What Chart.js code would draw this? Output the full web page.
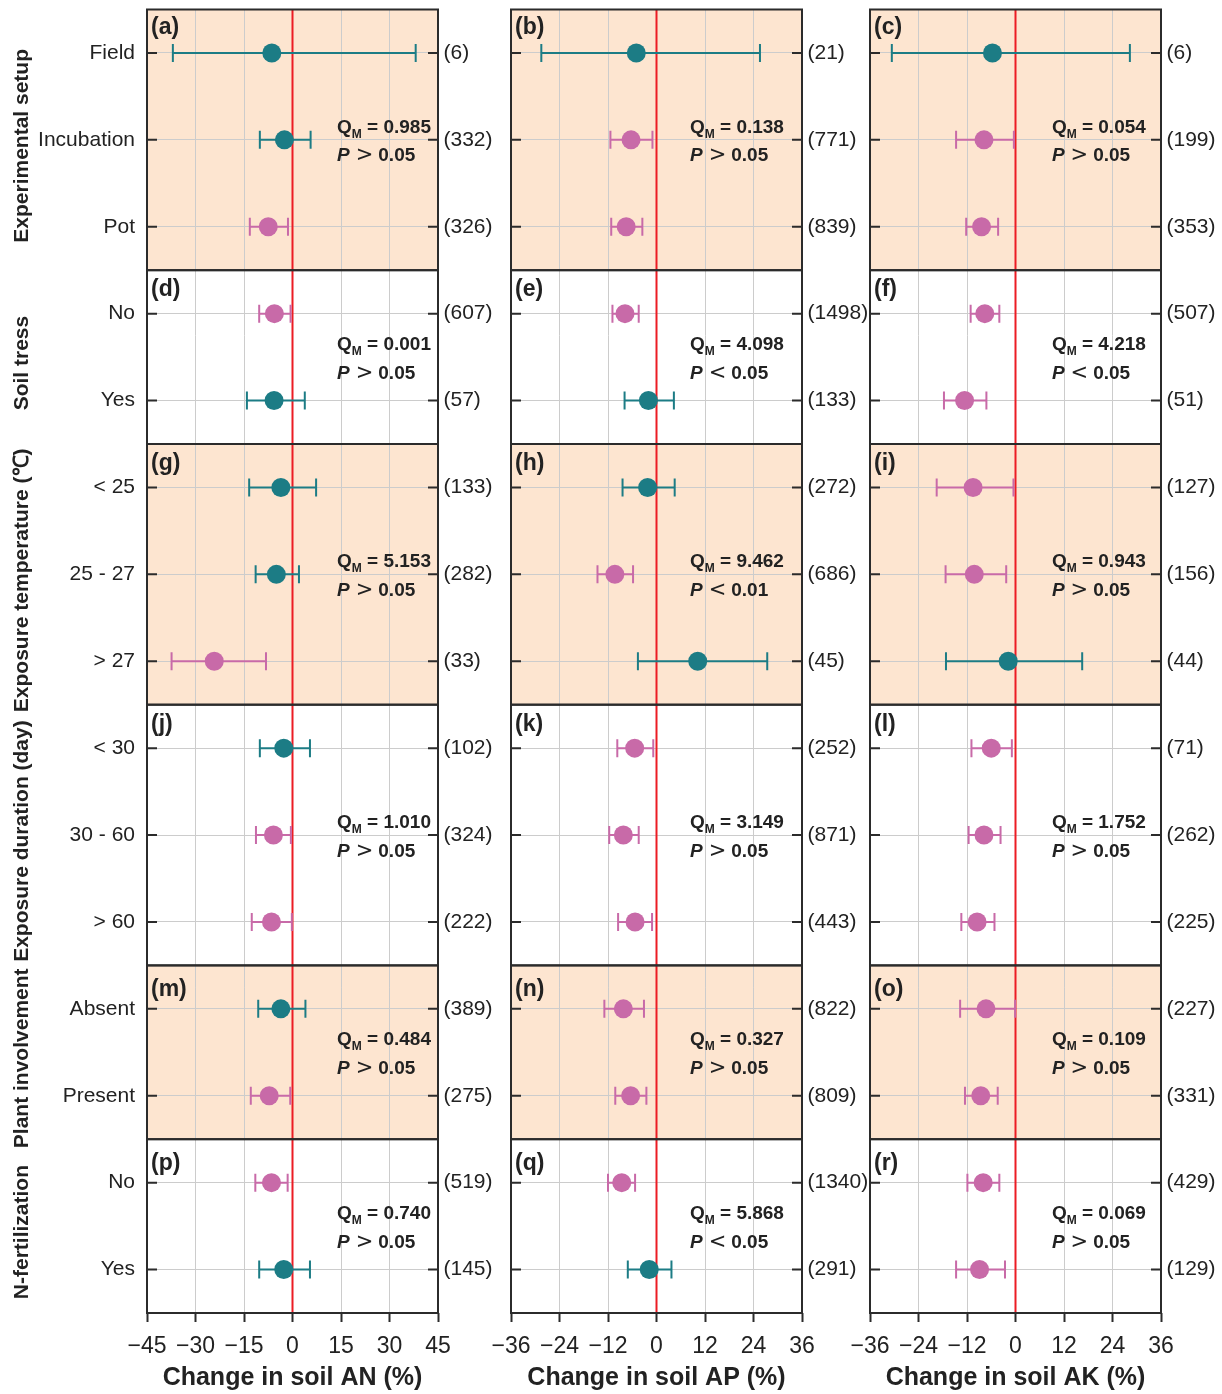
<!DOCTYPE html>
<html>
<head>
<meta charset="utf-8">
<script src="https://cdn.jsdelivr.net/npm/chart.js@4"></script>
<style>
  body { margin: 0; background: #fff; width: 1222px; height: 1394px; position: relative; overflow: hidden; }
  canvas { position: absolute; top: 0; }
</style>
</head>
<body>
<canvas id="chart-an" width="500" height="1394" style="left:0"></canvas>
<canvas id="chart-ap" width="440" height="1394" style="left:440px"></canvas>
<canvas id="chart-ak" width="422" height="1394" style="left:800px"></canvas>
<script>
// rows, top to bottom
const categories = ['Field', 'Incubation', 'Pot', 'No', 'Yes', '< 25', '25 - 27', '> 27',
  '< 30', '30 - 60', '> 60', 'Absent', 'Present', 'No', 'Yes'];
const groupNames = ['Experimental setup', 'Soil tress', 'Exposure temperature (℃)',
  'Exposure duration (day)', 'Plant involvement', 'N-fertilization'];
const groupSizes = [3, 2, 3, 3, 2, 2];

// soil AN
const meanAN = [-6.4, -2.5, -7.5, -5.6, -5.7, -3.6, -5.0, -24.2, -2.7, -5.9, -6.5, -3.6, -7.2, -6.5, -2.7];
const lowAN  = [-37.0, -10.1, -13.2, -10.3, -14.1, -13.4, -11.4, -37.4, -10.1, -11.3, -12.6, -10.6, -12.9, -11.5, -10.3];
const highAN = [38.1, 5.6, -1.4, -0.6, 3.8, 7.3, 2.0, -8.2, 5.4, -0.5, -0.2, 4.0, -0.7, -1.5, 5.4];
const nAN    = [6, 332, 326, 607, 57, 133, 282, 33, 102, 324, 222, 389, 275, 519, 145];
const qmAN   = ['0.985', '0.001', '5.153', '1.010', '0.484', '0.740'];
const pAN    = ['> 0.05', '> 0.05', '> 0.05', '> 0.05', '> 0.05', '> 0.05'];

// soil AP
const meanAP = [-5.0, -6.3, -7.5, -7.8, -2.0, -2.2, -10.3, 10.2, -5.4, -8.2, -5.3, -8.2, -6.4, -8.6, -1.8];
const lowAP  = [-28.5, -11.4, -11.2, -10.9, -7.9, -8.4, -14.6, -4.6, -9.7, -11.7, -9.5, -12.9, -10.2, -12.0, -7.1];
const highAP = [25.6, -1.0, -3.5, -4.4, 4.3, 4.5, -5.8, 27.4, -0.8, -4.4, -1.1, -3.1, -2.5, -5.3, 3.7];
const nAP    = [21, 771, 839, 1498, 133, 272, 686, 45, 252, 871, 443, 822, 809, 1340, 291];
const qmAP   = ['0.138', '4.098', '9.462', '3.149', '0.327', '5.868'];
const pAP    = ['> 0.05', '< 0.05', '< 0.01', '> 0.05', '> 0.05', '< 0.05'];

// soil AK
const meanAK = [-5.7, -7.8, -8.4, -7.6, -12.6, -10.5, -10.2, -1.8, -6.0, -7.8, -9.5, -7.3, -8.6, -8.0, -8.9];
const lowAK  = [-30.6, -14.7, -12.2, -11.1, -17.7, -19.5, -17.3, -17.2, -10.9, -11.6, -13.4, -13.7, -12.5, -11.9, -14.7];
const highAK = [28.3, -0.4, -4.3, -4.0, -7.2, -0.5, -2.3, 16.5, -0.9, -3.7, -5.2, -0.1, -4.4, -4.0, -2.6];
const nAK    = [6, 199, 353, 507, 51, 127, 156, 44, 71, 262, 225, 227, 331, 429, 129];
const qmAK   = ['0.054', '4.218', '0.943', '1.752', '0.109', '0.069'];
const pAK    = ['> 0.05', '< 0.05', '> 0.05', '> 0.05', '> 0.05', '> 0.05'];

const TEAL = '#1c7c85';
const PINK = '#c86aa8';
const SHADE = '#fde5d0';
const RED = '#ec1c24';
const INK = '#222222';
const FONT = '"Liberation Sans", Arial, Helvetica, sans-serif';

Chart.defaults.font.family = FONT;

const labelDy = [18, 19, 19.5, 19.5, 24.5, 24.5];

function pointColor(high) {
  return high < 0 ? PINK : TEAL;
}

// draws shading, zero line, error bars, frames and text for one column
function forestPlugin(col) {
  return {
    id: 'forest',
    beforeDraw(chart) {
      const { ctx, chartArea: a, scales: { y } } = chart;
      ctx.save();
      let k = 0;
      groupSizes.forEach((n, g) => {
        const top = y.getPixelForValue(k - 0.5);
        const bot = y.getPixelForValue(k + n - 0.5);
        if (g % 2 === 0) {
          ctx.fillStyle = SHADE;
          ctx.fillRect(a.left, top, a.right - a.left, bot - top);
        }
        k += n;
      });
      ctx.restore();
    },
    beforeDatasetsDraw(chart) {
      const { ctx, chartArea: a, scales: { x, y } } = chart;
      ctx.save();
      const x0 = x.getPixelForValue(0);
      ctx.strokeStyle = RED;
      ctx.lineWidth = 2;
      ctx.beginPath();
      ctx.moveTo(x0, a.top);
      ctx.lineTo(x0, a.bottom);
      ctx.stroke();

      ctx.lineWidth = 2;
      col.low.forEach((lo, i) => {
        const yy = y.getPixelForValue(i);
        const xl = x.getPixelForValue(lo);
        const xh = x.getPixelForValue(col.high[i]);
        ctx.strokeStyle = pointColor(col.high[i]);
        ctx.beginPath();
        ctx.moveTo(xl, yy); ctx.lineTo(xh, yy);
        ctx.moveTo(xl, yy - 9); ctx.lineTo(xl, yy + 9);
        ctx.moveTo(xh, yy - 9); ctx.lineTo(xh, yy + 9);
        ctx.stroke();
      });
      ctx.restore();
    },
    afterDraw(chart) {
      const { ctx, chartArea: a, scales: { y } } = chart;
      const w = a.right - a.left;
      ctx.save();

      // inward ticks on both sides
      ctx.strokeStyle = '#2b2b2b';
      ctx.lineWidth = 2;
      categories.forEach((c, i) => {
        const yy = y.getPixelForValue(i);
        ctx.beginPath();
        ctx.moveTo(a.left, yy); ctx.lineTo(a.left + 10, yy);
        ctx.moveTo(a.right - 10, yy); ctx.lineTo(a.right, yy);
        ctx.stroke();
      });

      let k = 0;
      groupSizes.forEach((n, g) => {
        const top = y.getPixelForValue(k - 0.5);
        const bot = y.getPixelForValue(k + n - 0.5);
        const mid = (top + bot) / 2;

        ctx.strokeStyle = '#2b2b2b';
        ctx.lineWidth = 2;
        ctx.strokeRect(a.left, top, w, bot - top);

        ctx.fillStyle = INK;
        ctx.textAlign = 'left';
        ctx.textBaseline = 'middle';
        ctx.font = 'bold 23px ' + FONT;
        ctx.fillText('(' + col.panels[g] + ')', a.left + 4, top + labelDy[g]);

        // Q_M line
        ctx.textBaseline = 'alphabetic';
        let tx = a.left + col.qFrac * w;
        let by = mid - 7;
        ctx.font = 'bold 19px ' + FONT;
        ctx.fillText('Q', tx, by);
        tx += ctx.measureText('Q').width;
        ctx.font = 'bold 12px ' + FONT;
        ctx.fillText('M', tx, by + 5);
        tx += ctx.measureText('M').width;
        ctx.font = 'bold 19px ' + FONT;
        ctx.fillText(' = ' + col.qm[g], tx, by);

        // P line
        tx = a.left + col.qFrac * w;
        by = mid + 21.5;
        const [sign, pval] = col.p[g].split(' ');
        ctx.font = 'italic bold 19px ' + FONT;
        ctx.fillText('P', tx, by);
        tx += ctx.measureText('P').width + 6;
        ctx.font = '21px "DejaVu Sans", sans-serif';
        ctx.fillText(sign, tx, by);
        tx += ctx.measureText(sign).width + 5;
        ctx.font = 'bold 19px ' + FONT;
        ctx.fillText(pval, tx, by);

        if (col.showGroups) {
          ctx.save();
          ctx.translate(22, mid + 6);
          ctx.rotate(-Math.PI / 2);
          ctx.textAlign = 'center';
          ctx.textBaseline = 'middle';
          ctx.font = 'bold 21px ' + FONT;
          ctx.fillText(groupNames[g], 0, 0);
          ctx.restore();
        }
        k += n;
      });
      ctx.restore();
    }
  };
}

function buildColumn(id, col) {
  const ctx = document.getElementById(id).getContext('2d');
  return new Chart(ctx, {
    type: 'scatter',
    data: {
      datasets: [{
        data: col.mean.map((m, i) => ({ x: m, y: i })),
        pointRadius: 9.5,
        pointHoverRadius: 9.5,
        pointBorderWidth: 0,
        pointBackgroundColor: col.high.map(pointColor),
        pointBorderColor: col.high.map(pointColor)
      }]
    },
    options: {
      responsive: false,
      animation: false,
      events: [],
      layout: { padding: { top: 8, bottom: 0, left: 0, right: 0 } },
      plugins: { legend: { display: false }, tooltip: { enabled: false } },
      scales: {
        x: {
          type: 'linear',
          min: col.min,
          max: col.max,
          ticks: {
            stepSize: col.step,
            autoSkip: false,
            maxRotation: 0,
            padding: 11,
            color: INK,
            font: { size: 23 },
            callback: v => v < 0 ? '\u2212' + (-v) : String(v)
          },
          grid: { color: '#cccccc', lineWidth: 1, tickColor: '#2b2b2b', tickWidth: 2, tickLength: 9 },
          border: { display: false },
          title: {
            display: true,
            text: col.title,
            color: INK,
            font: { size: 25, weight: 'bold' },
            padding: { top: 0, bottom: 1 }
          },
          afterFit: s => { s.height = 81; s.paddingLeft = 0; s.paddingRight = 0; }
        },
        y: {
          type: 'category',
          labels: categories,
          offset: true,
          position: 'left',
          ticks: { display: col.showLabels, autoSkip: false, padding: 12, color: INK, font: { size: 21 } },
          grid: { offset: false, color: '#cccccc', lineWidth: 1, drawTicks: false },
          border: { display: false },
          afterFit: s => { s.width = col.leftW; s.paddingTop = 0; s.paddingBottom = 0; }
        },
        y2: {
          type: 'category',
          labels: col.n.map(v => '(' + v + ')'),
          offset: true,
          position: 'right',
          ticks: { autoSkip: false, padding: 5.5, color: INK, font: { size: 21 } },
          grid: { display: false, drawTicks: false },
          border: { display: false },
          afterFit: s => { s.width = col.rightW; s.paddingTop = 0; s.paddingBottom = 0; }
        }
      }
    },
    plugins: [forestPlugin(col)]
  });
}

buildColumn('chart-an', {
  mean: meanAN, low: lowAN, high: highAN, n: nAN, qm: qmAN, p: pAN,
  panels: ['a', 'd', 'g', 'j', 'm', 'p'],
  min: -45, max: 45, step: 15, title: 'Change in soil AN (%)',
  leftW: 147, rightW: 62, showLabels: true, showGroups: true, qFrac: 0.653
});
buildColumn('chart-ap', {
  mean: meanAP, low: lowAP, high: highAP, n: nAP, qm: qmAP, p: pAP,
  panels: ['b', 'e', 'h', 'k', 'n', 'q'],
  min: -36, max: 36, step: 12, title: 'Change in soil AP (%)',
  leftW: 71, rightW: 78, showLabels: false, showGroups: false, qFrac: 0.615
});
buildColumn('chart-ak', {
  mean: meanAK, low: lowAK, high: highAK, n: nAK, qm: qmAK, p: pAK,
  panels: ['c', 'f', 'i', 'l', 'o', 'r'],
  min: -36, max: 36, step: 12, title: 'Change in soil AK (%)',
  leftW: 70, rightW: 61, showLabels: false, showGroups: false, qFrac: 0.625
});
</script>
</body>
</html>
